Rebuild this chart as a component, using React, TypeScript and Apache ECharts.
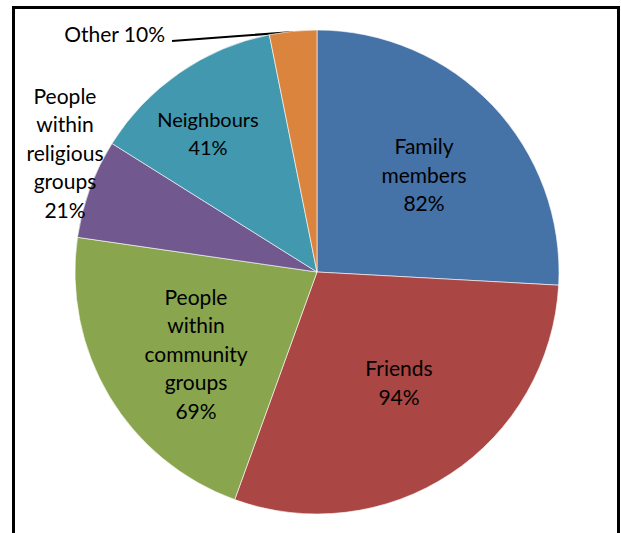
import React, { useEffect, useRef } from "react";
import * as echarts from "echarts";

const categories = [
  "Family\nmembers",
  "Friends",
  "People\nwithin\ncommunity\ngroups",
  "People\nwithin\nreligious\ngroups",
  "Neighbours",
  "Other",
];
const values = [82, 94, 69, 21, 41, 10];
const colors = ["#4572A7", "#AA4643", "#89A54E", "#71588F", "#4198AF", "#DB843D"];
// label anchor positions (centre of text block) in px
const labelPos: Array<[number, number, string]> = [
  [424, 174, "center"],
  [399, 382, "center"],
  [196, 353, "center"],
  [65, 152, "center"],
  [208, 133, "center"],
  [165, 33, "right"],
];

export default function App() {
  const ref = useRef<HTMLDivElement>(null);
  useEffect(() => {
    if (!ref.current) return;
    const chart = echarts.init(ref.current, null, { renderer: "svg" });
    const font = "Lato, 'Open Sans', sans-serif";
    chart.setOption({
      animation: false,
      backgroundColor: "#fff",
      graphic: [
        {
          type: "rect",
          shape: { x: 13.5, y: 7.5, width: 605, height: 600 },
          style: { fill: "none", stroke: "#000", lineWidth: 3 },
          z: 100,
        },
      ],
      series: [
        {
          type: "pie",
          center: [317, 272],
          radius: [0, 242],
          startAngle: 90,
          clockwise: true,
          avoidLabelOverlap: false,
          itemStyle: { borderColor: "#fff", borderWidth: 0.6 },
          label: {
            show: true,
            position: "inside",
            color: "#000",
            fontFamily: font,
            fontSize: 21,
            lineHeight: 28.5,
            align: "center",
            formatter: (p: any) => `${p.name}\n${p.value}%`,
          },
          labelLine: { show: false },
          labelLayout: (p: any) => {
            const lp = labelPos[p.dataIndex];
            const res: any = { x: lp[0], y: lp[1], align: lp[2], verticalAlign: "middle" };
            if (p.dataIndex === 5) {
              res.labelLinePoints = [
                [293, 32],
                [232, 36.5],
                [172, 41],
              ];
            }
            return res;
          },
          data: categories.map((c, i) => {
            const d: any = { name: c, value: values[i], itemStyle: { color: colors[i] } };
            if (i === 3) {
              d.label = { position: "outside" };
            }
            if (i === 4) {
              d.label = { fontSize: 20, lineHeight: 28 };
            }
            if (i === 5) {
              d.label = {
                position: "outside",
                formatter: (p: any) => `${p.name} ${p.value}%`,
              };
              d.labelLine = { show: true, lineStyle: { color: "#000", width: 2 } };
            }
            return d;
          }),
        },
      ],
    });
    return () => chart.dispose();
  }, []);
  return (
    <div
      ref={ref}
      style={{ position: "absolute", left: 0, top: 0, width: 621, height: 533 }}
    />
  );
}
